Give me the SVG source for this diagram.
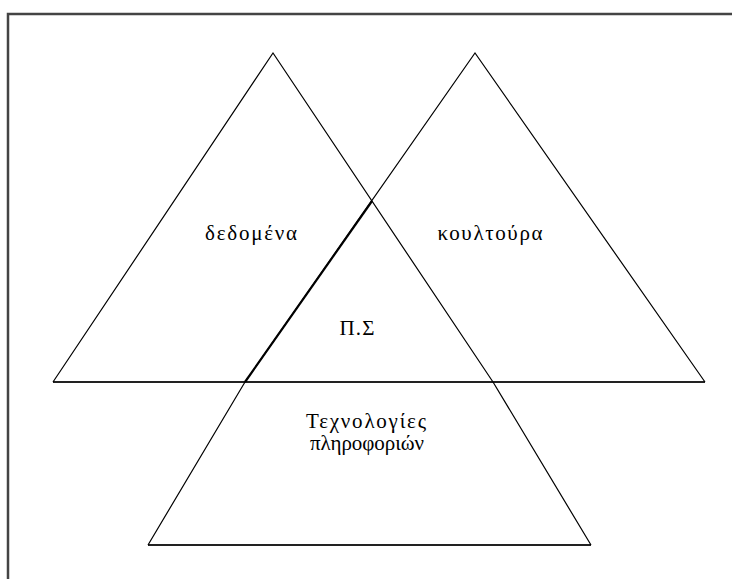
<svg xmlns="http://www.w3.org/2000/svg" width="732" height="579" viewBox="0 0 732 579">
<style>
.tri{fill:none;stroke:#000;stroke-width:1.2;stroke-linejoin:miter}
.base{fill:none;stroke:#222;stroke-width:2}
.frame{fill:none;stroke:#444;stroke-width:2.5}
text{font-family:"Liberation Serif","DejaVu Serif",serif;font-size:21px;fill:#000;text-anchor:middle}
</style>
<rect width="732" height="579" fill="#fff"/>
<path class="frame" d="M8,579 V14 H732"/>
<g id="connectors">
<line class="base" x1="53" y1="382" x2="705" y2="382"/>
<line class="base" x1="148" y1="545" x2="591" y2="545"/>
</g>
<g id="data">
<path class="tri" d="M53,382 L273,53 L493,382"/>
<text x="251" y="240" textLength="92" lengthAdjust="spacing">δεδομένα</text>
</g>
<g id="culture">
<path class="tri" d="M245,382 L475,53 L705,382"/>
<text x="490" y="240" textLength="105" lengthAdjust="spacing">κουλτούρα</text>
</g>
<g id="it">
<path class="tri" d="M245,382 L148,545 M493,382 L591,545"/>
<path d="M372,201 L245,382" fill="none" stroke="#000" stroke-width="2.2"/>
<text x="366" y="428" textLength="120" lengthAdjust="spacing">Τεχνολογίες</text>
<text x="367" y="450" textLength="114" lengthAdjust="spacing">πληροφοριών</text>
</g>
<g id="is">
<text x="357" y="335" textLength="35" lengthAdjust="spacing">Π.Σ</text>
</g>
</svg>
